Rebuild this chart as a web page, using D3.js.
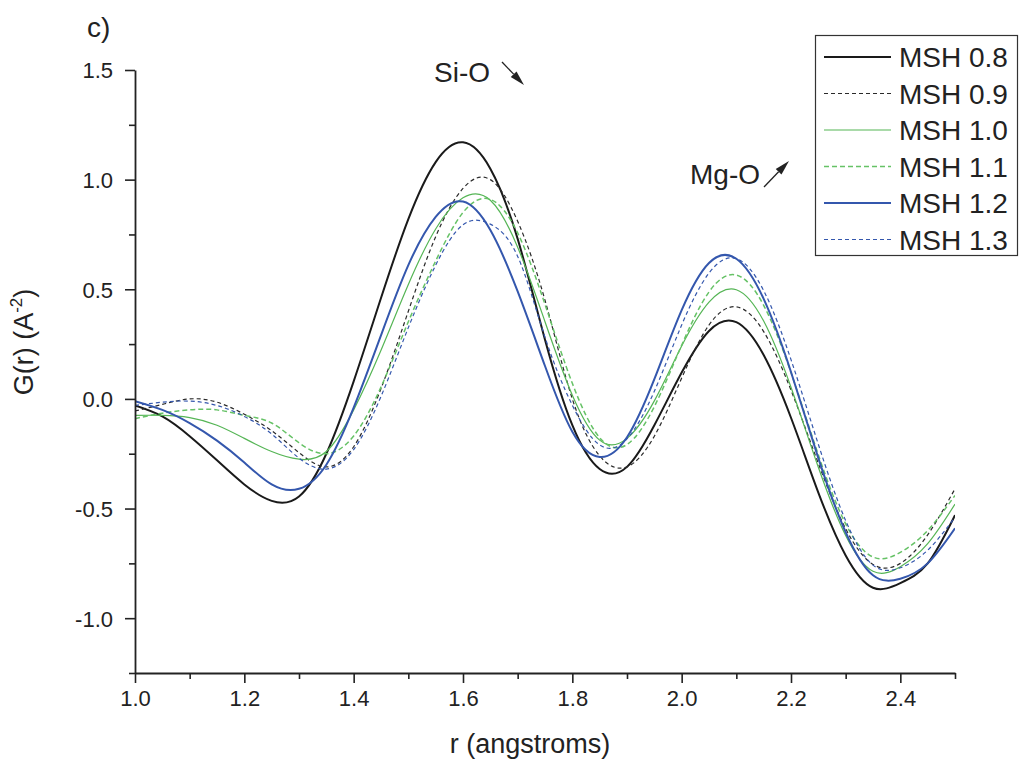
<!DOCTYPE html>
<html><head><meta charset="utf-8">
<script src="https://cdn.jsdelivr.net/npm/d3@7"></script>
<style>
body{margin:0;background:#fff;}
svg{display:block;font-family:"Liberation Sans",Arial,sans-serif;}
</style></head>
<body><svg id="chart" width="1019" height="762"></svg>
<script>
const rValues = [1.00,1.05,1.10,1.15,1.20,1.25,1.30,1.35,1.40,1.45,1.50,1.55,1.60,1.65,1.70,1.75,1.80,1.85,1.90,1.95,2.00,2.05,2.10,2.15,2.20,2.25,2.30,2.35,2.40,2.45,2.50];
const msh08 = [-0.03,-0.08,-0.17,-0.28,-0.39,-0.465,-0.445,-0.25,0.08,0.46,0.82,1.08,1.17,1.05,0.73,0.27,-0.12,-0.32,-0.31,-0.12,0.12,0.31,0.35,0.20,-0.086,-0.427,-0.714,-0.861,-0.84,-0.75,-0.53];
const msh09 = [-0.055,-0.025,0.0,-0.015,-0.07,-0.145,-0.245,-0.31,-0.218,0.047,0.40,0.74,0.96,1.0,0.81,0.45,0.0,-0.26,-0.31,-0.17,0.095,0.337,0.42,0.307,0.04,-0.294,-0.592,-0.755,-0.75,-0.62,-0.41];
const msh10 = [-0.075,-0.075,-0.085,-0.12,-0.18,-0.24,-0.275,-0.24,-0.05,0.222,0.522,0.775,0.917,0.906,0.692,0.352,0.017,-0.188,-0.18,-0.009,0.241,0.441,0.498,0.355,0.053,-0.312,-0.623,-0.786,-0.765,-0.66,-0.48];
const msh11 = [-0.09,-0.065,-0.05,-0.05,-0.075,-0.11,-0.20,-0.25,-0.169,0.054,0.352,0.629,0.85,0.91,0.757,0.431,0.071,-0.177,-0.208,-0.035,0.245,0.488,0.565,0.427,0.12,-0.255,-0.57,-0.721,-0.70,-0.60,-0.44];
const msh12 = [-0.01,-0.05,-0.11,-0.19,-0.29,-0.39,-0.41,-0.30,-0.04,0.29,0.61,0.83,0.90,0.77,0.49,0.15,-0.15,-0.265,-0.175,0.09,0.405,0.62,0.639,0.456,0.123,-0.27,-0.608,-0.804,-0.82,-0.75,-0.59];
const msh13 = [-0.03,-0.015,-0.01,-0.03,-0.08,-0.16,-0.27,-0.32,-0.231,0.011,0.325,0.61,0.794,0.797,0.65,0.281,-0.029,-0.21,-0.182,0.035,0.337,0.574,0.64,0.494,0.179,-0.207,-0.555,-0.758,-0.77,-0.69,-0.54];
const seriesNames = ["MSH 0.8","MSH 0.9","MSH 1.0","MSH 1.1","MSH 1.2","MSH 1.3"];
const xTicks = [1.0,1.2,1.4,1.6,1.8,2.0,2.2,2.4];
const yTicks = [-1.0,-0.5,0.0,0.5,1.0,1.5];

const styles = [
  {color:"#1a1a1a", width:2.0, dash:null},
  {color:"#2a2a2a", width:1.2, dash:"4,3"},
  {color:"#55b555", width:1.2, dash:null},
  {color:"#66c266", width:1.5, dash:"5,3"},
  {color:"#3457ad", width:2.0, dash:null},
  {color:"#3457ad", width:1.2, dash:"4,3"}
];
const seriesData = [msh08,msh09,msh10,msh11,msh12,msh13];

const svg = d3.select("#chart");
const x = d3.scaleLinear().domain([1.0,2.5]).range([135,955]);
const y = d3.scaleLinear().domain([-1.25,1.5]).range([673,70]);

svg.append("defs").append("clipPath").attr("id","clip")
  .append("rect").attr("x",135).attr("y",60).attr("width",820).attr("height",613);

const line = d3.line().x((d,i)=>x(rValues[i])).y(d=>y(d)).curve(d3.curveNatural);
const g = svg.append("g").attr("clip-path","url(#clip)");
seriesData.forEach((s,k)=>{
  g.append("path").attr("d",line(s)).attr("fill","none")
    .attr("stroke",styles[k].color).attr("stroke-width",styles[k].width)
    .attr("stroke-dasharray",styles[k].dash);
});

// axes
const axisColor = "#222";
const fmt = d => d3.format(".1f")(d).replace("\u2212","-");
const xAxis = svg.append("g").attr("transform","translate(0,673)")
  .call(d3.axisBottom(x).tickValues(xTicks).tickFormat(fmt).tickSize(10).tickSizeOuter(0));
const xMinor = svg.append("g").attr("transform","translate(0,673)")
  .call(d3.axisBottom(x).tickValues([1.1,1.3,1.5,1.7,1.9,2.1,2.3,2.5]).tickFormat("").tickSize(6).tickSizeOuter(0));
const yAxis = svg.append("g").attr("transform","translate(135,0)")
  .call(d3.axisLeft(y).tickValues(yTicks).tickFormat(fmt).tickSize(10).tickSizeOuter(0));
const yMinor = svg.append("g").attr("transform","translate(135,0)")
  .call(d3.axisLeft(y).tickValues([-1.25,-0.75,-0.25,0.25,0.75,1.25]).tickFormat("").tickSize(6).tickSizeOuter(0));
[xAxis,xMinor,yAxis,yMinor].forEach(a=>{
  a.selectAll("path").attr("stroke",axisColor).attr("stroke-width",1.8);
  a.selectAll("line").attr("stroke",axisColor).attr("stroke-width",1.6);
});
xMinor.select("path").remove();
yMinor.select("path").remove();
xAxis.selectAll("text").attr("font-size",22).attr("fill","#222").attr("y",33).attr("dy",0).attr("font-family","Liberation Sans, Arial");
yAxis.selectAll("text").attr("font-size",22).attr("fill","#222").attr("x",-22).attr("dy","0.36em").attr("font-family","Liberation Sans, Arial");

// axis labels
svg.append("text").attr("x",530).attr("y",753).attr("text-anchor","middle").attr("font-size",27).attr("fill","#222").text("r (angstroms)");
const yl = svg.append("text").attr("transform","translate(33,342) rotate(-90)").attr("text-anchor","middle").attr("font-size",27).attr("fill","#222");
yl.append("tspan").text("G(r) (A");
yl.append("tspan").attr("font-size",17).attr("dy",-11).text("-2");
yl.append("tspan").attr("dy",11).text(")");

svg.append("text").attr("x",87).attr("y",37).attr("font-size",28).attr("fill","#222").text("c)");

// annotations
function arrow(x1,y1,x2,y2){
  const ang = Math.atan2(y2-y1,x2-x1), L=15, W=4;
  const bx = x2 - L*Math.cos(ang), by = y2 - L*Math.sin(ang);
  svg.append("line").attr("x1",x1).attr("y1",y1).attr("x2",bx).attr("y2",by).attr("stroke","#222").attr("stroke-width",1.3);
  const px = -Math.sin(ang)*W, py = Math.cos(ang)*W;
  svg.append("path").attr("d",`M${x2},${y2}L${bx+px},${by+py}L${bx-px},${by-py}Z`).attr("fill","#222");
}
svg.append("text").attr("x",434).attr("y",82).attr("font-size",28).attr("fill","#222").text("Si-O");
arrow(502,62,524,85);
svg.append("text").attr("x",690).attr("y",184).attr("font-size",28).attr("fill","#222").text("Mg-O");
arrow(764,187,789,161);

// legend
svg.append("rect").attr("x",815.5).attr("y",35.5).attr("width",202).attr("height",220)
  .attr("fill","#fff").attr("stroke","#333").attr("stroke-width",1.2);
seriesNames.forEach((n,k)=>{
  const yy = 57 + k*36.5;
  svg.append("line").attr("x1",824).attr("x2",891).attr("y1",yy).attr("y2",yy)
    .attr("stroke",styles[k].color).attr("stroke-width",styles[k].width).attr("stroke-dasharray",styles[k].dash);
  svg.append("text").attr("x",899).attr("y",yy+10).attr("font-size",28).attr("fill","#222").text(n);
});
</script></body></html>
